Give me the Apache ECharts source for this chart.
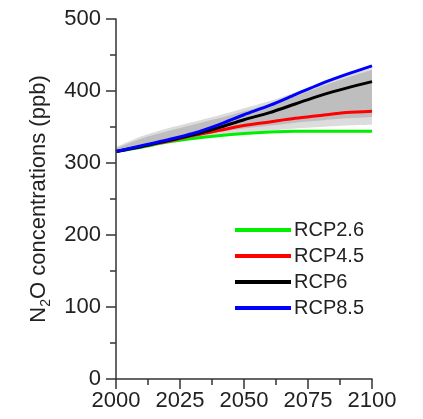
<!DOCTYPE html>
<html>
<head>
<meta charset="utf-8">
<script src="https://cdn.jsdelivr.net/npm/echarts@6/dist/echarts.min.js"></script>
<style>html,body{margin:0;padding:0;background:#fff}#c{width:423px;height:419px}</style>
</head>
<body>
<div id="c"></div>
<script>
var years = [2000, 2010, 2020, 2030, 2040, 2050, 2060, 2070, 2080, 2090, 2100];
var rcp26 = [316, 322, 329, 334, 338, 341, 343, 344, 344, 344, 344];
var rcp45 = [316, 323, 330, 338, 345, 352, 357, 362, 366, 370, 372];
var rcp6  = [316, 323, 331, 339, 349, 360, 370, 382, 394, 404, 413];
var rcp85 = [316, 324, 332, 341, 353, 367, 380, 395, 410, 423, 435];
var lightLow  = [314, 320, 327, 333, 338, 342, 345, 348, 350, 352, 353];
var lightHigh = [322, 337, 348, 357, 366, 376, 386, 398, 410, 422, 432];
var darkLow   = [314, 322, 330, 337, 343, 348, 352, 356, 359, 362, 364];
var darkHigh  = [320, 334, 344, 353, 362, 372, 382, 393, 406, 418, 429];
var yTicks = [0, 100, 200, 300, 400, 500];
var xTicks = [2000, 2025, 2050, 2075, 2100];

function pairs(arr) { return years.map(function (y, i) { return [y, arr[i]]; }); }

var chart = echarts.init(document.getElementById('c'));
var font = 'Liberation Sans, Arial, sans-serif';
// layered fills down to axis start: light high, dark high, dark low (light), light low (white)
function fill(name, arr, color) {
  return { name: name, type: 'line', data: pairs(arr), symbol: 'none', silent: true, z: 1,
    smooth: 0.3,
    lineStyle: { width: 0, opacity: 0 },
    areaStyle: { color: color, opacity: 1, origin: 'start' } };
}
function lineSeries(name, arr, color) {
  return { name: name, type: 'line', data: pairs(arr), symbol: 'none', z: 2, smooth: 0.3,
    lineStyle: { width: 3, color: color }, itemStyle: { color: color } };
}
chart.setOption({
  animation: false,
  grid: { left: 116, right: 51, top: 19, bottom: 40 },
  legend: {
    data: ['RCP2.6', 'RCP4.5', 'RCP6', 'RCP8.5'],
    orient: 'vertical', left: 230, top: 215, z: 20,
    icon: 'rect', itemWidth: 56, itemHeight: 4, itemGap: 6,
    textStyle: { fontFamily: font, fontSize: 20, color: '#222', padding: [0, 0, 0, -2] }
  },
  xAxis: {
    type: 'value', min: xTicks[0], max: xTicks[xTicks.length - 1], interval: 25, z: 10,
    axisLine: { lineStyle: { color: '#333', width: 1.5 } },
    axisTick: { inside: false, length: 10, lineStyle: { color: '#333', width: 1.5 } },
    minorTick: { show: true, splitNumber: 2, length: 6, lineStyle: { color: '#333', width: 1.5 } },
    splitLine: { show: false },
    axisLabel: { fontFamily: font, fontSize: 22, color: '#222', margin: 11,
      formatter: function (v) { return String(v); } }
  },
  yAxis: {
    type: 'value', min: yTicks[0], max: yTicks[yTicks.length - 1], interval: 100, z: 10,
    axisLine: { show: true, lineStyle: { color: '#333', width: 1.5 } },
    axisTick: { show: true, inside: false, length: 10, lineStyle: { color: '#333', width: 1.5 } },
    minorTick: { show: true, splitNumber: 2, length: 6, lineStyle: { color: '#333', width: 1.5 } },
    splitLine: { show: false },
    axisLabel: { fontFamily: font, fontSize: 22, color: '#222', margin: 15 },
    name: '{n|N}{s|2}{n|O concentrations (ppb)}',
    nameLocation: 'middle', nameGap: 63, nameRotate: 90,
    nameTextStyle: {
      fontFamily: font, fontSize: 22, color: '#222',
      rich: {
        n: { fontFamily: font, fontSize: 22, color: '#222' },
        s: { fontFamily: font, fontSize: 14, color: '#222', padding: [14, 0, 0, 0] }
      }
    }
  },
  series: [
    fill('bandLightHigh', lightHigh, '#dcdcdc'),
    fill('bandDarkHigh', darkHigh, '#bebebe'),
    fill('bandDarkLow', darkLow, '#dcdcdc'),
    fill('bandLightLow', lightLow, '#ffffff'),
    lineSeries('RCP2.6', rcp26, '#00ee00'),
    lineSeries('RCP4.5', rcp45, '#ff0000'),
    lineSeries('RCP6', rcp6, '#000000'),
    lineSeries('RCP8.5', rcp85, '#0000ff')
  ]
});
</script>
</body>
</html>
